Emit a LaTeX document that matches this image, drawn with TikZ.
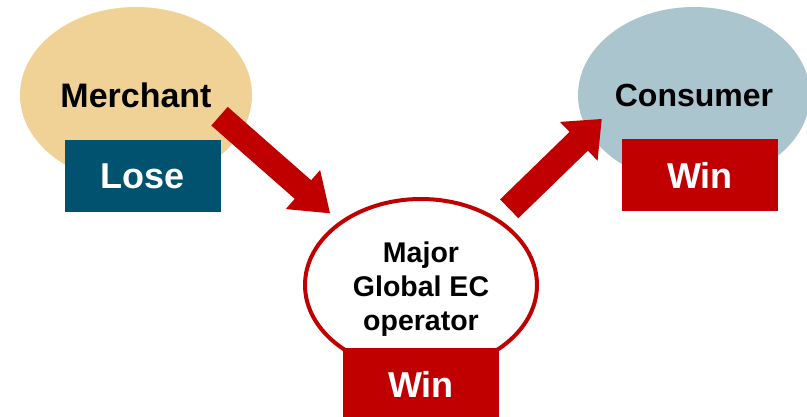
\documentclass[tikz,border=0pt]{standalone}
\usepackage{fontspec}
\setmainfont{Liberation Sans}
\usetikzlibrary{shapes.geometric,calc}
\definecolor{wheatfill}{RGB}{240,210,150}
\definecolor{bluegrey}{RGB}{171,197,206}
\definecolor{darkteal}{RGB}{0,82,110}
\definecolor{ared}{RGB}{192,0,0}
% block arrow: tail, tip, head length, half shaft width, half head width
\newcommand{\blockarr}[5]{%
  \path ($(#2)!#3!(#1)$) coordinate (#1#2b);
  \fill[ared] ($(#1)!#4!90:(#2)$) -- ($(#1#2b)!#4!90:(#2)$) -- ($(#1#2b)!#5!90:(#2)$)
    -- (#2) -- ($(#1#2b)!#5!-90:(#2)$) -- ($(#1#2b)!#4!-90:(#2)$) -- ($(#1)!#4!-90:(#2)$) -- cycle;}
\tikzset{
  party/.style={ellipse, minimum width=232pt, minimum height=176pt, inner sep=0pt,
    font=\fontsize{33}{40}\selectfont\bfseries},
  verdict/.style={rectangle, minimum width=156pt, minimum height=72pt, inner sep=0pt,
    text=white, font=\fontsize{36}{40}\selectfont\bfseries},
  hub/.style={ellipse, draw=ared, line width=4pt, fill=white, minimum width=232pt,
    minimum height=172pt, inner sep=0pt},
  hubtext/.style={align=center, inner sep=0pt, font=\fontsize{28.5}{34}\selectfont\bfseries}
}
\begin{document}
\begin{tikzpicture}[x=1pt,y=-1pt]
\clip (0,0) rectangle (807,417);
\fill[white] (0,0) rectangle (807,417);
% parties
\node[party, fill=wheatfill, font=\fontsize{34}{40}\selectfont\bfseries] (merchant) at (136,95) {Merchant};
\node[party, fill=bluegrey, font=\fontsize{32}{40}\selectfont\bfseries] (consumer) at (694,95) {Consumer};
\node[hub] (operator) at (421,285) {};
\node[hubtext] (optext) at (421,288.8) {Major\\Global EC\\operator};
% verdict boxes
\node[verdict, fill=darkteal] (lose) at (142.5,176) {Lose};
\node[verdict, fill=ared] (win1) at (700,175) {Win};
\node[verdict, fill=ared] (win2) at (421,384) {Win};
% arrows
\coordinate (ta) at (219.5,116.2);
\coordinate (pa) at (330,213.3);
\coordinate (tb) at (509.2,208.8);
\coordinate (pb) at (601.7,119);
\blockarr{ta}{pa}{36pt}{12.4pt}{26pt}
\blockarr{tb}{pb}{32pt}{13.1pt}{27pt}
\end{tikzpicture}
\end{document}
